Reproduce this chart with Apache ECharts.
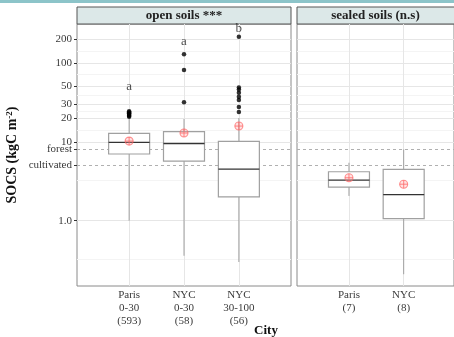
<!DOCTYPE html>
<html>
<head>
<meta charset="utf-8">
<script src="https://cdn.jsdelivr.net/npm/echarts@6/dist/echarts.min.js"></script>
<style>
html, body { margin: 0; padding: 0; background: #fff; }
#chart { width: 454px; height: 337px; }
</style>
</head>
<body>
<div id="chart"></div>
<script>
var openCats = ['Paris\n0-30\n(593)', 'NYC\n0-30\n(58)', 'NYC\n30-100\n(56)'];
var sealedCats = ['Paris\n(7)', 'NYC\n(8)'];
// lower whisker, Q1, median, Q3, upper whisker (kgC m-2)
var openBoxes = [[1.0, 7.0, 9.8, 12.8, 20.5], [0.36, 5.7, 9.5, 13.4, 19.4], [0.30, 2.0, 4.5, 10.1, 20]];
var sealedBoxes = [[2.06, 2.67, 3.27, 4.17, 5.42], [0.21, 1.06, 2.14, 4.47, 8.0]];
var openMeans = [10.2, 12.9, 15.8];
var sealedMeans = [3.5, 2.9];
var openOutliers = [[1, 20.8], [1, 21.3], [1, 21.8], [1, 22.4], [1, 23.0], [1, 23.6], [1, 24.3],
    [2, 31.6], [2, 81], [2, 128],
    [3, 23.8], [3, 27.5], [3, 33.7], [3, 37.1], [3, 41.7], [3, 46], [3, 48.8], [3, 213]];
var letters = ['a', 'a', 'b'];
var letterPos = [50, 187, 272];
var refLines = [8, 5]; // forest, cultivated
var tickVals = [1, 5, 8, 10, 20, 30, 50, 100, 200];
var tickText = ['1.0', 'cultivated', 'forest', '10', '20', '30', '50', '100', '200'];
var majorGrid = [1, 10, 20, 30, 50, 100, 200];
var minorGrid = [0.32, 3.2, 14, 24.5, 39, 71, 141];

var L = Math.log10;
var font = 'Liberation Serif';
var yMin = L(0.149), yMax = L(310);

function yLabel(v) {
    for (var i = 0; i < tickVals.length; i++) {
        if (Math.abs(L(tickVals[i]) - v) < 1e-6) return tickText[i];
    }
    return '';
}

function renderBox(params, api) {
    var x = api.value(0);
    var p = [1, 2, 3, 4, 5].map(function (d) { return api.coord([x, api.value(d)]); });
    var cx = p[0][0], hw = 20.5, grey = '#a0a0a0';
    return {
        type: 'group',
        children: [
            { type: 'line', shape: { x1: cx, y1: p[0][1], x2: cx, y2: p[1][1] }, style: { stroke: grey, lineWidth: 1 } },
            { type: 'line', shape: { x1: cx, y1: p[3][1], x2: cx, y2: p[4][1] }, style: { stroke: grey, lineWidth: 1 } },
            { type: 'rect', shape: { x: cx - hw, y: p[3][1], width: hw * 2, height: p[1][1] - p[3][1] }, style: { fill: '#fff', stroke: grey, lineWidth: 1.2 } },
            { type: 'line', shape: { x1: cx - hw, y1: p[2][1], x2: cx + hw, y2: p[2][1] }, style: { stroke: '#333', lineWidth: 1.3 } }
        ]
    };
}

function renderMean(params, api) {
    var c = api.coord([api.value(0), api.value(1)]);
    var r = 4, col = 'rgba(255,100,100,0.7)';
    return {
        type: 'group',
        children: [
            { type: 'circle', shape: { cx: c[0], cy: c[1], r: r }, style: { fill: 'rgba(255,160,160,0.3)', stroke: col, lineWidth: 1.1 } },
            { type: 'line', shape: { x1: c[0] - r, y1: c[1], x2: c[0] + r, y2: c[1] }, style: { stroke: col, lineWidth: 1.1 } },
            { type: 'line', shape: { x1: c[0], y1: c[1] - r, x2: c[0], y2: c[1] + r }, style: { stroke: col, lineWidth: 1.1 } }
        ]
    };
}

function gridLines(nCats) {
    var d = [];
    minorGrid.forEach(function (v) {
        d.push({ yAxis: L(v), lineStyle: { color: '#f4f4f4', width: 1, type: 'solid' } });
    });
    majorGrid.forEach(function (v) {
        d.push({ yAxis: L(v), lineStyle: { color: '#e6e6e6', width: 1, type: 'solid' } });
    });
    for (var i = 1; i <= nCats; i++) {
        d.push({ xAxis: i, lineStyle: { color: '#e6e6e6', width: 1, type: 'solid' } });
    }
    refLines.forEach(function (v) {
        d.push({ yAxis: L(v), lineStyle: { color: '#b0b0b0', width: 1, type: [3, 3] } });
    });
    return { silent: true, symbol: 'none', label: { show: false }, z: 1, data: d };
}

function xAxisFor(idx, cats, max) {
    var vals = cats.map(function (c, i) { return i + 1; });
    return {
        gridIndex: idx, type: 'value', min: 0.05, max: max,
        axisLine: { show: false }, splitLine: { show: false },
        axisTick: { customValues: vals, length: 3, lineStyle: { color: '#333' } },
        axisLabel: {
            customValues: vals, margin: 3, fontFamily: font, fontSize: 11, color: '#3a3a3a', lineHeight: 12.8,
            formatter: function (v) { return cats[Math.round(v) - 1]; }
        }
    };
}

var chart = echarts.init(document.getElementById('chart'));
chart.setOption({
    animation: false,
    backgroundColor: '#fff',
    grid: [
        { left: 77, top: 24, width: 214, height: 262, show: true, borderColor: '#8a8a8a', borderWidth: 1, backgroundColor: '#fff' },
        { left: 297, top: 24, width: 158, height: 262, show: true, borderColor: '#8a8a8a', borderWidth: 1, backgroundColor: '#fff' }
    ],
    xAxis: [xAxisFor(0, openCats, 3.95), xAxisFor(1, sealedCats, 2.92)],
    yAxis: [
        {
            gridIndex: 0, type: 'value', min: yMin, max: yMax,
            axisLine: { show: false }, splitLine: { show: false },
            axisTick: { customValues: tickVals.map(L), length: 3, lineStyle: { color: '#333' } },
            axisLabel: { customValues: tickVals.map(L), formatter: yLabel, margin: 5, fontFamily: font, fontSize: 11, color: '#3a3a3a' },
            name: 'SOCS (kgC m{sup|-2})', nameLocation: 'middle', nameGap: 57,
            nameTextStyle: {
                fontFamily: font, fontSize: 14, fontWeight: 'bold', color: '#111',
                rich: { sup: { fontFamily: font, fontSize: 9, fontWeight: 'bold', color: '#111', verticalAlign: 'top', padding: [0, 0, 6, 0] } }
            }
        },
        {
            gridIndex: 1, type: 'value', min: yMin, max: yMax,
            axisLine: { show: false }, splitLine: { show: false },
            axisTick: { show: false }, axisLabel: { show: false }
        }
    ],
    graphic: [
        { type: 'rect', shape: { x: 0, y: 0, width: 454, height: 3 }, style: { fill: '#8cc4c9' } },
        { type: 'rect', shape: { x: 77, y: 7, width: 214, height: 17 }, style: { fill: '#dce8e8', stroke: '#555', lineWidth: 1 } },
        { type: 'text', x: 184, y: 15.5, style: { text: 'open soils ***', fontFamily: font, fontSize: 13, fontWeight: 'bold', fill: '#222', align: 'center', verticalAlign: 'middle' } },
        { type: 'rect', shape: { x: 297, y: 7, width: 158, height: 17 }, style: { fill: '#dce8e8', stroke: '#555', lineWidth: 1 } },
        { type: 'text', x: 375.5, y: 15.5, style: { text: 'sealed soils (n.s)', fontFamily: font, fontSize: 13, fontWeight: 'bold', fill: '#222', align: 'center', verticalAlign: 'middle' } },
        { type: 'text', x: 266, y: 331, style: { text: 'City', fontFamily: font, fontSize: 13, fontWeight: 'bold', fill: '#111', align: 'center', verticalAlign: 'middle' } }
    ],
    series: [
        {
            type: 'custom', xAxisIndex: 0, yAxisIndex: 0, z: 2, renderItem: renderBox,
            encode: { x: 0, y: [1, 2, 3, 4, 5] },
            data: openBoxes.map(function (b, i) { return [i + 1].concat(b.map(L)); }),
            markLine: gridLines(openCats.length)
        },
        {
            type: 'custom', xAxisIndex: 1, yAxisIndex: 1, z: 2, renderItem: renderBox,
            encode: { x: 0, y: [1, 2, 3, 4, 5] },
            data: sealedBoxes.map(function (b, i) { return [i + 1].concat(b.map(L)); }),
            markLine: gridLines(sealedCats.length)
        },
        {
            type: 'scatter', xAxisIndex: 0, yAxisIndex: 0, z: 3, symbolSize: 4.5,
            itemStyle: { color: '#000' },
            data: openOutliers.map(function (o) { return [o[0], L(o[1])]; })
        },
        {
            type: 'custom', xAxisIndex: 0, yAxisIndex: 0, z: 4, renderItem: renderMean,
            data: openMeans.map(function (m, i) { return [i + 1, L(m)]; })
        },
        {
            type: 'custom', xAxisIndex: 1, yAxisIndex: 1, z: 4, renderItem: renderMean,
            data: sealedMeans.map(function (m, i) { return [i + 1, L(m)]; })
        },
        {
            type: 'scatter', xAxisIndex: 0, yAxisIndex: 0, z: 5, symbolSize: 1,
            itemStyle: { color: 'transparent' },
            label: {
                show: true, position: 'inside', fontFamily: font, fontSize: 13, color: '#222',
                formatter: function (p) { return letters[p.dataIndex]; }
            },
            data: letterPos.map(function (v, i) { return [i + 1, L(v)]; })
        }
    ]
});
</script>
</body>
</html>
